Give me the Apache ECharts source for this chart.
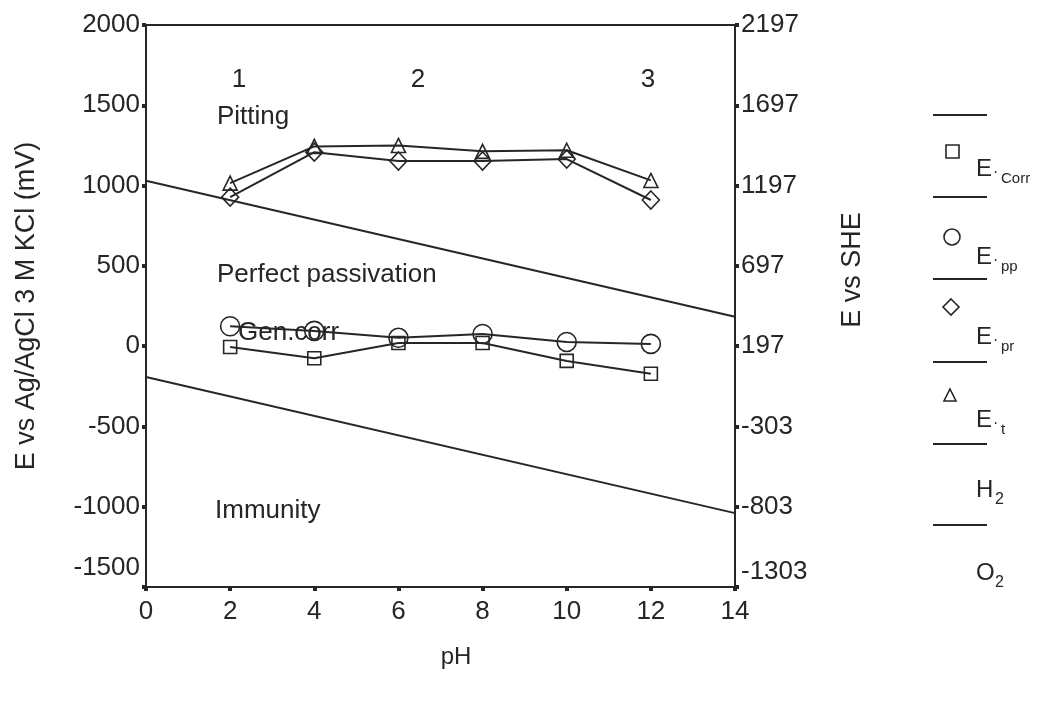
<!DOCTYPE html>
<html lang="en">
<head>
<meta charset="UTF-8">
<title>E vs pH</title>
<style>
    *{ margin: 0; padding: 0; }
    body{ background: #fff; }
    #chart{ width: 1041px; height: 726px; }
</style>
</head>
<body>
<div id="chart"></div>
<script src="https://cdn.jsdelivr.net/npm/echarts@6/dist/echarts.min.js"></script>
<script type="text/javascript">
    // pH values of the measurements
    var phList = [2, 4, 6, 8, 10, 12]
    // potentials vs Ag/AgCl (mV)
    var eCorr = [-5, -75, 20, 20, -92, -172]
    var ePP = [124, 95, 52, 76, 26, 14]
    var ePR = [928, 1208, 1153, 1153, 1165, 910]
    var eT = [1015, 1244, 1250, 1213, 1220, 1032]
    // water stability lines (pH 0 and pH 14)
    var o2Line = [[0, 1030], [14, 183]]
    var h2Line = [[0, -192], [14, -1040]]
    // axis settings
    var yMin = -1500
    var yMax = 2000
    var yStep = 500
    var sheOffset = 197   // E vs SHE = E vs Ag/AgCl + 197

    var ink = '#262626'
    var font = 'Liberation Sans'

    function pairs(ys) {
        return phList.map(function (x, i) { return [x, ys[i]] })
    }

    function markSeries(name, data, symbol, size) {
        return {
            name: name,
            type: 'line',
            data: pairs(data),
            symbol: symbol,
            symbolSize: size,
            lineStyle: { color: ink, width: 2 },
            itemStyle: { color: 'rgba(255,255,255,0)', borderColor: ink, borderWidth: 1.6 },
            z: 3
        }
    }

    function stabLine(data) {
        return {
            type: 'line',
            data: data,
            symbol: 'none',
            lineStyle: { color: ink, width: 2 },
            z: 2
        }
    }

    // 最小值标签往上挪一点，和原图一样
    function yLabel(offset) {
        return function (v) {
            if (v === yMin) return '{lo|' + (v + offset) + '}'
            return String(v + offset)
        }
    }

    function txt(x, y, s, size, align) {
        return {
            type: 'text', x: x, y: y,
            style: { text: s, font: size + 'px "' + font + '"', fill: ink, textAlign: align || 'left', textVerticalAlign: 'middle' }
        }
    }

    var chart = echarts.init(document.getElementById('chart'))

    var graphics = [
        // region labels
        txt(239, 80, '1', 26, 'center'), txt(418, 80, '2', 26, 'center'), txt(648, 80, '3', 26, 'center'),
        txt(217, 117, 'Pitting', 26),
        txt(217, 275, 'Perfect passivation', 26),
        txt(238, 333, 'Gen.corr', 26),
        txt(215, 511, 'Immunity', 26),
        // axis titles
        {
            type: 'text', x: 27, y: 306, rotation: Math.PI / 2,
            style: { text: 'E vs Ag/AgCl 3 M KCl (mV)', font: '27px "' + font + '"', fill: ink, textAlign: 'center', textVerticalAlign: 'middle' }
        },
        {
            type: 'text', x: 853, y: 270, rotation: Math.PI / 2,
            style: { text: 'E vs SHE', font: '27px "' + font + '"', fill: ink, textAlign: 'center', textVerticalAlign: 'middle' }
        },
        txt(456, 657, 'pH', 24, 'center')
    ]

    // legend on the right, drawn by hand
    var legendLines = [115, 197, 279, 362, 444, 525]
    legendLines.forEach(function (y) {
        graphics.push({ type: 'line', shape: { x1: 933, y1: y, x2: 987, y2: y }, style: { stroke: ink, lineWidth: 2 } })
    })
    graphics.push({ type: 'rect', shape: { x: 946, y: 145, width: 13, height: 13 }, style: { fill: 'none', stroke: ink, lineWidth: 1.6 } })
    graphics.push({ type: 'circle', shape: { cx: 952, cy: 237, r: 8 }, style: { fill: 'none', stroke: ink, lineWidth: 1.6 } })
    graphics.push({ type: 'polygon', shape: { points: [[951, 299], [959, 307], [951, 315], [943, 307]] }, style: { fill: 'none', stroke: ink, lineWidth: 1.6 } })
    graphics.push({ type: 'polygon', shape: { points: [[950, 389], [956, 401], [944, 401]] }, style: { fill: 'none', stroke: ink, lineWidth: 1.6 } })
    var legendText = [
        { y: 169, sub: 'Corr' },
        { y: 257, sub: 'pp' },
        { y: 337, sub: 'pr' },
        { y: 420, sub: 't' }
    ]
    legendText.forEach(function (t) {
        graphics.push(txt(976, t.y, 'E', 24))
        graphics.push(txt(993, t.y + 4, '·', 16))
        graphics.push(txt(1001, t.y + 10, t.sub, 15))
    })
    graphics.push(txt(976, 490, 'H', 24), txt(995, 500, '2', 16))
    graphics.push(txt(976, 573, 'O', 24), txt(995, 583, '2', 16))

    var option = {
        animation: false,
        backgroundColor: '#fff',
        grid: {
            left: 146, right: 306, top: 25, bottom: 139,
            show: true, borderColor: ink, borderWidth: 2
        },
        xAxis: {
            type: 'value', min: 0, max: 14, interval: 2,
            splitLine: { show: false },
            axisLine: { onZero: false, lineStyle: { color: ink, width: 2 } },
            axisTick: { inside: false, length: 4, lineStyle: { color: ink, width: 4 } },
            axisLabel: { color: ink, fontFamily: font, fontSize: 26, margin: 12 }
        },
        yAxis: [
            {
                type: 'value', min: yMin, max: yMax, interval: yStep,
                splitLine: { show: false },
                axisLine: { show: true, onZero: false, lineStyle: { color: ink, width: 2 } },
                axisTick: { show: true, length: 4, lineStyle: { color: ink, width: 4 } },
                axisLabel: {
                    color: ink, fontFamily: font, fontSize: 26, margin: 6,
                    formatter: yLabel(0),
                    rich: { lo: { fontFamily: font, fontSize: 26, color: ink, padding: [0, 0, 38, 0] } }
                }
            },
            {
                type: 'value', min: yMin, max: yMax, interval: yStep, position: 'right',
                splitLine: { show: false },
                axisLine: { show: true, onZero: false, lineStyle: { color: ink, width: 2 } },
                axisTick: { show: true, length: 4, lineStyle: { color: ink, width: 4 } },
                axisLabel: {
                    color: ink, fontFamily: font, fontSize: 26, margin: 6,
                    formatter: yLabel(sheOffset),
                    rich: { lo: { fontFamily: font, fontSize: 26, color: ink, padding: [0, 0, 30, 0] } }
                }
            }
        ],
        series: [
            stabLine(o2Line),
            stabLine(h2Line),
            markSeries('E.Corr', eCorr, 'rect', 13),
            markSeries('E.pp', ePP, 'circle', 19),
            markSeries('E.pr', ePR, 'diamond', [17, 18]),
            markSeries('E.t', eT, 'triangle', [14, 14])
        ],
        graphic: graphics
    }

    chart.setOption(option)
</script>
</body>
</html>
